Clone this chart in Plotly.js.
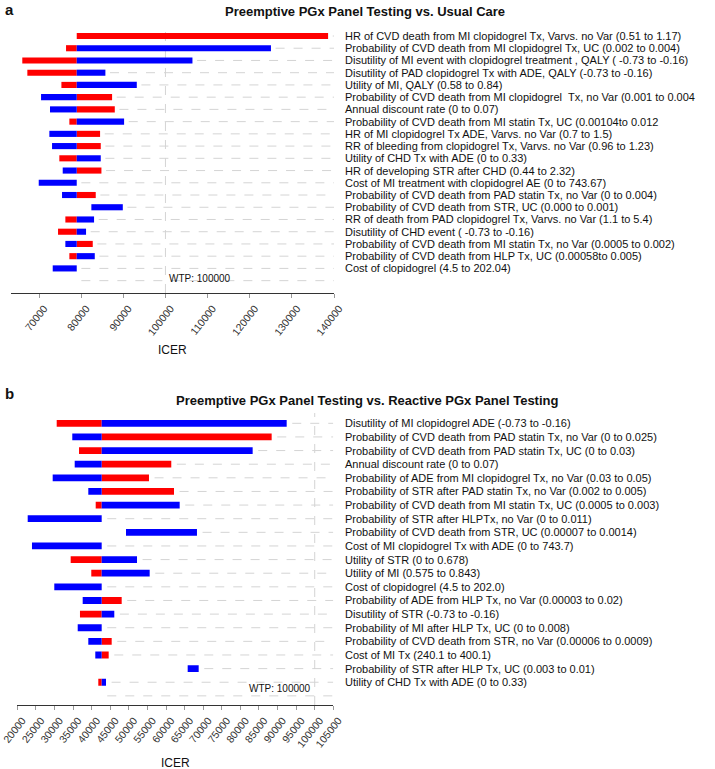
<!DOCTYPE html>
<html>
<head>
<meta charset="utf-8">
<script src="https://cdn.plot.ly/plotly-3.0.1.min.js"></script>
<style>
  body { margin: 0; background: #fff; }
  #chart { width: 715px; height: 769px; }
</style>
</head>
<body>
<div id="chart"></div>
<script>
// panel a: Preemptive vs Usual Care
var aLabels = [
  'HR of CVD death from MI clopidogrel Tx, Varvs. no Var (0.51 to 1.17)',
  'Probability of CVD death from MI clopidogrel Tx, UC (0.002 to 0.004)',
  'Disutility of MI event with clopidogrel treatment , QALY ( -0.73 to -0.16)',
  'Disutility of PAD clopidogrel Tx with ADE, QALY (-0.73 to -0.16)',
  'Utility of MI, QALY (0.58 to 0.84)',
  'Probability of CVD death from MI clopidogrel  Tx, no Var (0.001 to 0.004',
  'Annual discount rate (0 to 0.07)',
  'Probability of CVD death from MI statin Tx, UC (0.00104to 0.012',
  'HR of MI clopidogrel Tx ADE, Varvs. no Var (0.7 to 1.5)',
  'RR of bleeding from clopidogrel Tx, Varvs. no Var (0.96 to 1.23)',
  'Utility of CHD Tx with ADE (0 to 0.33)',
  'HR of developing STR after CHD (0.44 to 2.32)',
  'Cost of MI treatment with clopidogrel AE (0 to 743.67)',
  'Probability of CVD death from PAD statin Tx, no Var (0 to 0.004)',
  'Probability of CVD death from STR, UC (0.000 to 0.001)',
  'RR of death from PAD clopidogrel Tx, Varvs. no Var (1.1 to 5.4)',
  'Disutility of CHD event ( -0.73 to -0.16)',
  'Probability of CVD death from MI statin Tx, no Var (0.0005 to 0.002)',
  'Probability of CVD death from HLP Tx, UC (0.00058to 0.005)',
  'Cost of clopidogrel (4.5 to 202.04)'
];
var aBase = 78950;
var aRedLo  = [78950, 76410, 66030, 67230, 75310, 78950, 78950, 77200, 78950, 78950, 74820, 78950, null, 78950, null, 76250, 74510, 78950, 77200, null];
var aRedHi  = [138600, 78950, 78950, 78950, 78950, 87340, 87980, 78950, 84490, 84650, 78950, 84810, null, 83460, null, 78950, 78950, 82750, 78950, null];
var aBlueLo = [null, 78950, 78950, 78950, 78950, 70480, 72610, 78950, 72450, 73090, 78950, 75620, 69930, 75460, 82420, 78950, 78950, 76250, 78950, 73250];
var aBlueHi = [null, 125040, 106410, 85750, 93200, 78950, 78950, 90190, 78950, 78950, 84650, 78950, 78950, 78950, 89880, 83060, 81160, 78950, 83230, 78950];

// panel b: Preemptive vs Reactive
var bLabels = [
  'Disutility of MI clopidogrel ADE (-0.73 to -0.16)',
  'Probability of CVD death from PAD statin Tx, no Var (0 to 0.025)',
  'Probability of CVD death from PAD statin Tx, UC (0 to 0.03)',
  'Annual discount rate (0 to 0.07)',
  'Probability of ADE from MI clopidogrel Tx, no Var (0.03 to 0.05)',
  'Probability of STR after PAD statin Tx, no Var (0.002 to 0.005)',
  'Probability of CVD death from MI statin Tx, UC (0.0005 to 0.003)',
  'Probability of STR after HLPTx, no Var (0 to 0.011)',
  'Probability of CVD death from STR, UC (0.00007 to 0.0014)',
  'Cost of MI clopidogrel Tx with ADE (0 to 743.7)',
  'Utility of STR (0 to 0.678)',
  'Utility of MI (0.575 to 0.843)',
  'Cost of clopidogrel (4.5 to 202.0)',
  'Probability of ADE from HLP Tx, no Var (0.00003 to 0.02)',
  'Disutility of STR (-0.73 to -0.16)',
  'Probability of MI after HLP Tx, UC (0 to 0.008)',
  'Probability of CVD death from STR, no Var (0.00006 to 0.0009)',
  'Cost of MI Tx (240.1 to 400.1)',
  'Probability of STR after HLP Tx, UC (0.003 to 0.01)',
  'Utility of CHD Tx with ADE (0 to 0.33)'
];
var bBase = 42700;
var bRedLo  = [30600, 42700, 36600, 42700, 42700, 42700, 41090, null, null, null, 34360, 39900, null, 42700, 36860, null, 42700, 42700, null, 41790];
var bRedHi  = [42700, 88420, 42700, 61420, 55420, 62150, 42700, null, null, null, 42700, 42700, null, 48080, 42700, null, 45390, 44580, null, 42700];
var bBlueLo = [42700, 34790, 42700, 35440, 29520, 39100, 42700, 22800, 49240, 23950, 42700, 42700, 29950, 37590, 42700, 36250, 39100, 40980, 65830, 42700];
var bBlueHi = [92460, 42700, 83310, 42700, 42700, 42700, 63680, 42700, 68330, 42700, 52200, 55610, 42700, 42700, 46090, 42700, 42700, 42700, 68790, 43860];

var wtp = 100000;
var RED = '#ff0000', BLUE = '#0000ff';
var FONT = 'Liberation Sans, Arial, sans-serif';

function rows(n) { var r = []; for (var i = 1; i <= n; i++) r.push(i); return r; }

function barTrace(lo, hi, color, xa, ya) {
  var len = lo.map(function (v, i) { return v == null ? null : hi[i] - v; });
  return {
    type: 'bar', orientation: 'h', y: rows(lo.length), x: len, base: lo,
    width: 0.5, marker: { color: color, line: { width: 0 } },
    xaxis: xa, yaxis: ya, hoverinfo: 'skip'
  };
}

// dashed row guides: from just past the bar end to the axis end
function guideTrace(los, his, base, gap, xmax, xa, ya) {
  var x = [], y = [];
  for (var i = 0; i <= los[0].length; i++) {
    var end = base;
    los.concat(his).forEach(function (arr) {
      if (i < arr.length && arr[i] != null && arr[i] > end) end = arr[i];
    });
    x.push(end + gap, xmax, null);
    y.push(i + 1, i + 1, null);
  }
  return {
    type: 'scatter', mode: 'lines', x: x, y: y, xaxis: xa, yaxis: ya,
    line: { color: '#d4d4d4', width: 1, dash: 'dash' }, hoverinfo: 'skip'
  };
}

var data = [
  guideTrace([aRedLo, aBlueLo], [aRedHi, aBlueHi], aBase, 1100, 140000, 'x', 'y'),
  barTrace(aRedLo, aRedHi, RED, 'x', 'y'),
  barTrace(aBlueLo, aBlueHi, BLUE, 'x', 'y'),
  guideTrace([bRedLo, bBlueLo], [bRedHi, bBlueHi], bBase, 1500, 105000, 'x2', 'y2'),
  barTrace(bRedLo, bRedHi, RED, 'x2', 'y2'),
  barTrace(bBlueLo, bBlueHi, BLUE, 'x2', 'y2')
];

function xAxis(domain, range, tick0, dtick) {
  return {
    domain: domain, range: range, tick0: tick0, dtick: dtick, tickformat: 'd',
    tickangle: -52, ticks: 'outside', ticklen: 4, tickcolor: '#999',
    ticklabelshift: 5, ticklabeloverflow: 'allow',
    showline: true, linecolor: '#333', linewidth: 1.2,
    showgrid: false, zeroline: false, fixedrange: true,
    tickfont: { family: FONT, size: 10.5, color: '#333' }
  };
}
function yAxis(domain, range) {
  return {
    domain: domain, range: range, autorange: false, visible: false,
    showgrid: false, zeroline: false, fixedrange: true
  };
}

var annotations = [];
function addLabels(labels, xa, ya) {
  labels.forEach(function (t, i) {
    annotations.push({
      text: t, xref: 'paper', yref: ya, x: 343 / 715, y: i + 1,
      xanchor: 'left', yanchor: 'middle', showarrow: false,
      font: { family: FONT, size: 11, color: '#111' }
    });
  });
}
addLabels(aLabels, 'x', 'y');
addLabels(bLabels, 'x2', 'y2');

function txt(t, x, y, size, bold, anchor, xref, yref) {
  annotations.push({
    text: bold ? '<b>' + t + '</b>' : t, x: x, y: y,
    xref: xref || 'paper', yref: yref || 'paper',
    xanchor: anchor || 'center', yanchor: 'middle', showarrow: false,
    font: { family: FONT, size: size, color: '#111' }
  });
}
txt('a', 3 / 715, 1 - 9 / 769, 15, true, 'left');
txt('b', 3 / 715, 1 - 394 / 769, 15, true, 'left');
txt('Preemptive PGx Panel Testing vs. Usual Care', 365 / 715, 1 - 12 / 769, 13, true);
txt('Preemptive PGx Panel Testing vs. Reactive PGx Panel Testing', 367 / 715, 1 - 400 / 769, 13, true);
txt('ICER', 172 / 715, 1 - 350 / 769, 12, false);
txt('ICER', 175 / 715, 1 - 763 / 769, 12, false);
txt('WTP: ' + wtp, wtp + 300, 20.8, 10, false, 'left', 'x', 'y');
txt('WTP: ' + wtp, wtp - 500, 20.45, 10, false, 'right', 'x2', 'y2');

var shapes = [
  { type: 'line', xref: 'x', yref: 'y domain', x0: wtp, x1: wtp, y0: 0, y1: 1,
    line: { color: '#d4d4d4', width: 1, dash: 'dash' }, layer: 'below' },
  { type: 'line', xref: 'x2', yref: 'y2 domain', x0: wtp, x1: wtp, y0: 0, y1: 1,
    line: { color: '#d4d4d4', width: 1, dash: 'dash' }, layer: 'below' }
];

var layout = {
  width: 715, height: 769,
  margin: { l: 0, r: 0, t: 0, b: 0 },
  paper_bgcolor: '#fff', plot_bgcolor: '#fff',
  showlegend: false, barmode: 'overlay',
  font: { family: FONT, color: '#111' },
  xaxis: xAxis([11 / 715, 334 / 715], [63350, 140000], 70000, 10000),
  yaxis: yAxis([1 - 293 / 769, 1 - 28 / 769], [22.01, 0.346]),
  xaxis2: xAxis([16.7 / 715, 333.3 / 715], [19840, 105000], 20000, 5000),
  yaxis2: yAxis([1 - 705 / 769, 1 - 413 / 769], [21.67, 0.244]),
  annotations: annotations,
  shapes: shapes
};
layout.xaxis.anchor = 'y';
layout.xaxis2.anchor = 'y2';
layout.yaxis.anchor = 'x';
layout.yaxis2.anchor = 'x2';

Plotly.newPlot('chart', data, layout, { displayModeBar: false, staticPlot: true });
</script>
</body>
</html>
